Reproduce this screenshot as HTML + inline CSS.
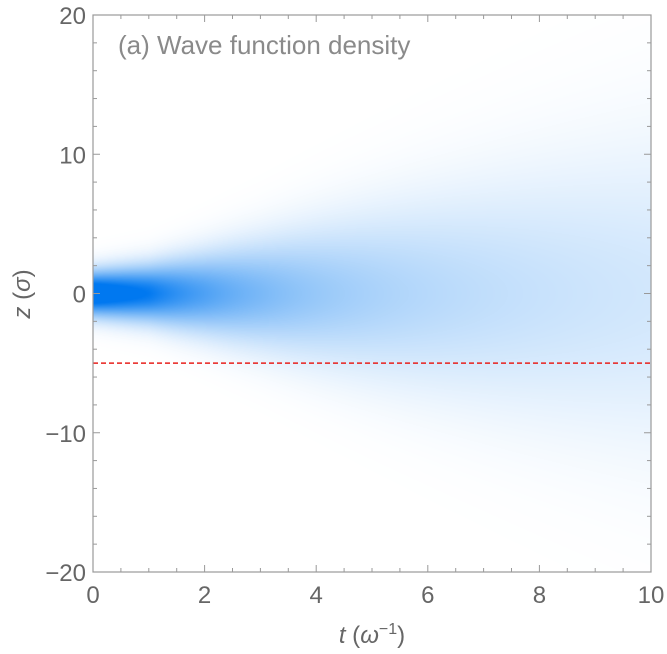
<!DOCTYPE html>
<html><head><meta charset="utf-8"><style>
body{margin:0;background:#fff;width:667px;height:654px;overflow:hidden;font-family:"Liberation Sans",sans-serif}
#wrap{position:relative;width:667px;height:654px}
canvas{position:absolute;left:93px;top:15px}
svg{position:absolute;left:0;top:0}
</style></head><body>
<div id="wrap">
<canvas id="hm" width="558" height="557"></canvas>
<svg id="ax" width="667" height="654"></svg>
</div>
<script>
const tSamples=[0,1,2,3,4,5,6,7,8,9,10];
const widthSamples=[1.5,1.9,2.7,3.6,4.6,5.6,6.6,7.6,8.6,9.6,10.6];
const xTicks=[0,2,4,6,8,10];
const yTicks=[-20,-10,0,10,20];
const barrierZ=[-5];
const X0=93,X1=651,Y0=572,Y1=15;
const xs=t=>X0+(t-0)/10*(X1-X0);
const ys=z=>Y0-(z+20)/40*(Y0-Y1);
function widthAt(t){for(let i=0;i<tSamples.length-1;i++){if(t<=tSamples[i+1]){const f=(t-tSamples[i])/(tSamples[i+1]-tSamples[i]);return widthSamples[i]+f*(widthSamples[i+1]-widthSamples[i]);}}return widthSamples[widthSamples.length-1];}
const cv=document.getElementById('hm'),ctx=cv.getContext('2d');
const W=cv.width,H=cv.height,img=ctx.createImageData(W,H),w0=widthSamples[0];
for(let px=0;px<W;px++){const t=px/(W-1)*10,w=widthAt(t),amp=w0/w;
 for(let py=0;py<H;py++){const z=20-py/(H-1)*40;let v=amp*Math.exp(-(z*z)/(w*w));v=Math.min(1,v*1.25);
  const i=(py*W+px)*4;img.data[i]=255-255*v;img.data[i+1]=255-135*v;img.data[i+2]=255-15*v;img.data[i+3]=255;}}
ctx.putImageData(img,0,0);
const svg=document.getElementById('ax'),NS='http://www.w3.org/2000/svg';
function mk(tag,a,txt){const e=document.createElementNS(NS,tag);for(const k in a)e.setAttribute(k,a[k]);if(txt!==undefined)e.textContent=txt;svg.appendChild(e);return e;}
barrierZ.forEach(z=>{const l=mk('line',{x1:X0,x2:X1,y1:ys(z),y2:ys(z),stroke:'#e8201c','stroke-width':1.6,'stroke-dasharray':'5,3'});

});
const fr=mk('rect',{x:X0,y:Y1,width:X1-X0,height:Y0-Y1,fill:'none',stroke:'#999','stroke-width':1.2});


for(let t=0;t<=10.001;t+=0.5){const x=xs(t),L=(Math.abs(t%2)<1e-6)?7:4;
 mk('line',{x1:x,x2:x,y1:Y0,y2:Y0-L,stroke:'#999'});mk('line',{x1:x,x2:x,y1:Y1,y2:Y1+L,stroke:'#999'});}
for(let z=-20;z<=20;z+=2){const y=ys(z),L=(z%10===0)?7:4;
 mk('line',{x1:X0,x2:X0+L,y1:y,y2:y,stroke:'#999'});mk('line',{x1:X1,x2:X1-L,y1:y,y2:y,stroke:'#999'});}
xTicks.forEach(t=>{const e=mk('text',{x:xs(t),y:603,'text-anchor':'middle','font-size':24,fill:'#666'},String(t));

});
yTicks.forEach(z=>{const e=mk('text',{x:86,y:ys(z)+9,'text-anchor':'end','font-size':24,fill:'#666'},z<0?'\u2212'+(-z):String(z));

});
const xt=mk('text',{x:372,y:643,'text-anchor':'middle','font-size':24,fill:'#666'});
xt.innerHTML='<tspan font-style="italic">t</tspan> (<tspan font-style="italic">ω</tspan><tspan font-size="16" dy="-9">−1</tspan><tspan dy="9">)</tspan>';


const yt=mk('text',{x:0,y:0,'text-anchor':'middle','font-size':24,fill:'#666',transform:'translate(30,294) rotate(-90)'});
yt.innerHTML='<tspan font-style="italic">z</tspan> (<tspan font-style="italic">σ</tspan>)';


const ti=mk('text',{x:118,y:54,'font-size':26,fill:'#8a8a8a'},'(a) Wave function density');


</script>
</body></html>
